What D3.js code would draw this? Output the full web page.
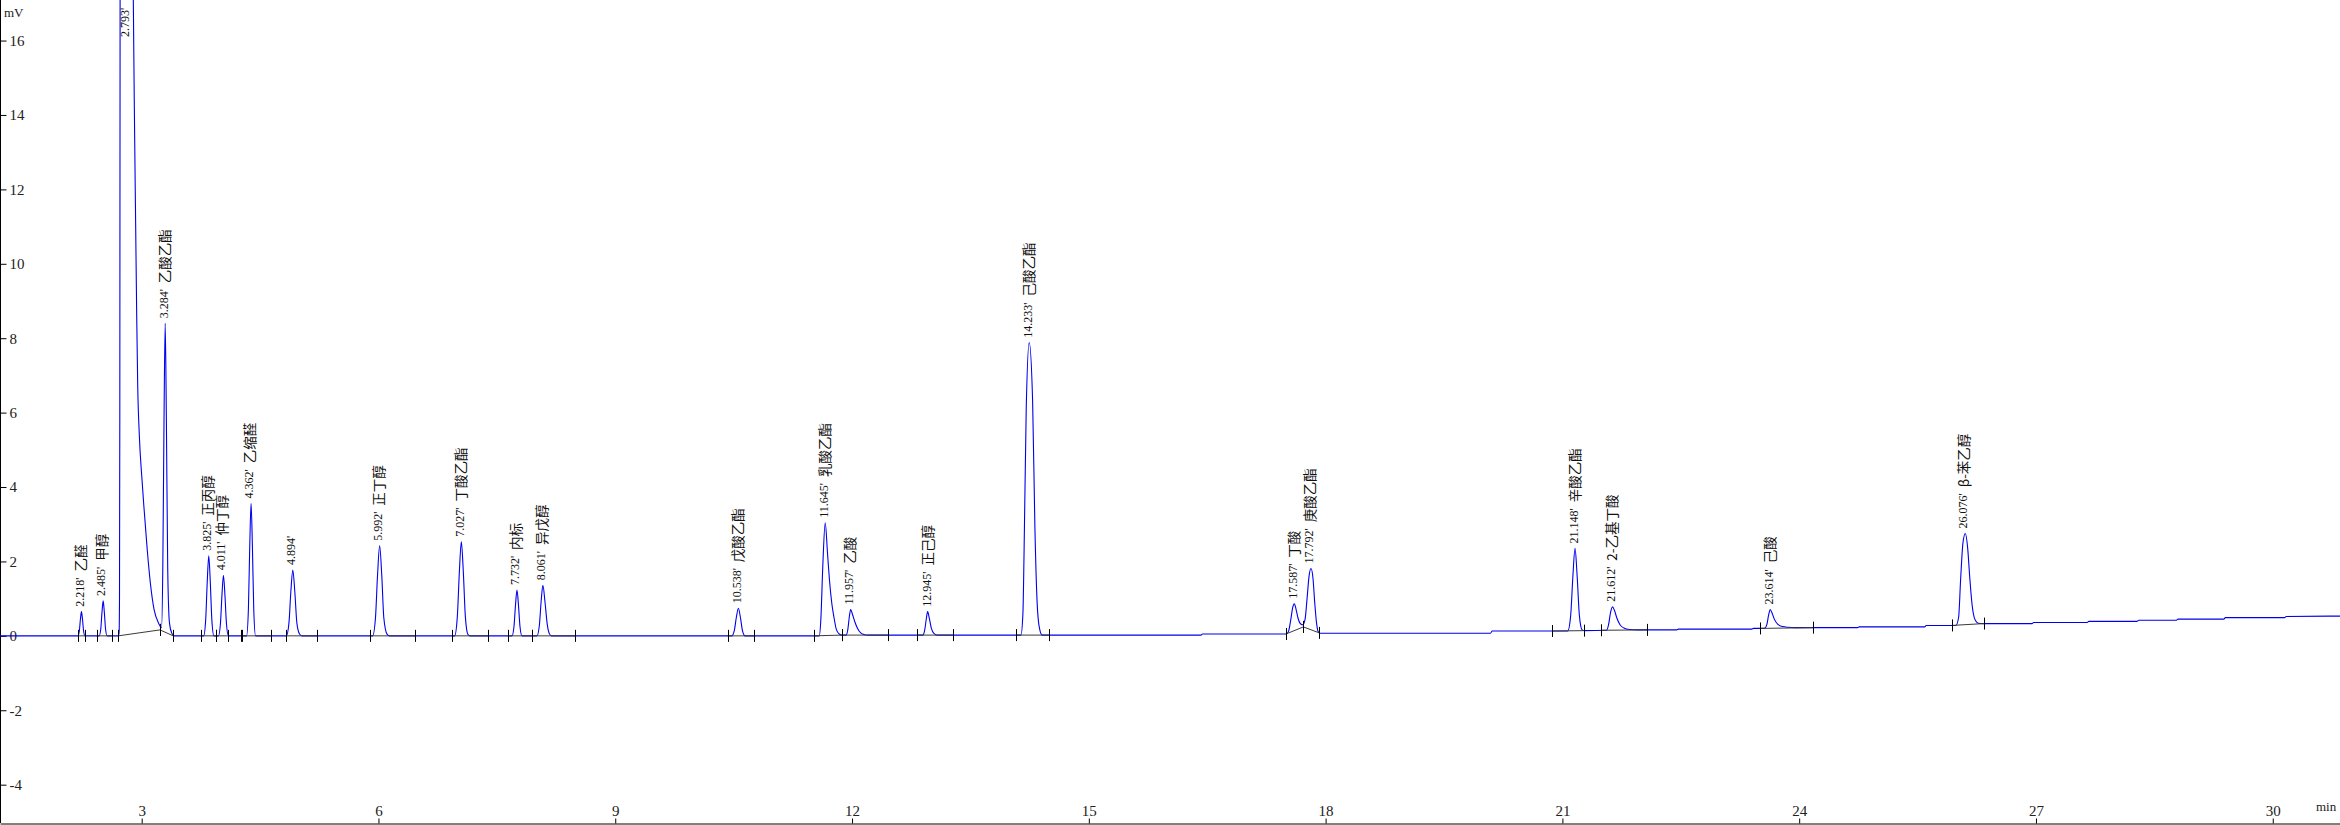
<!DOCTYPE html>
<html><head><meta charset="utf-8">
<script src="https://cdn.jsdelivr.net/npm/d3@7/dist/d3.min.js"></script>
<style>
html,body{margin:0;padding:0;background:#fff;}
svg{display:block;}
</style></head>
<body>
<svg id="chart" width="2340" height="825"></svg>
<script>
// ---------- data ----------
const retention = [2.218, 2.485, 2.793, 3.284, 3.825, 4.011, 4.362, 4.894, 5.992, 7.027, 7.732, 8.061,
  10.538, 11.645, 11.957, 12.945, 14.233, 17.587, 17.792, 21.148, 21.612, 23.614, 26.076];
const compound = ["乙醛","甲醇","","乙酸乙酯","正丙醇","仲丁醇","乙缩醛","","正丁醇","丁酸乙酯","内标","异戊醇",
  "戊酸乙酯","乳酸乙酯","乙酸","正己醇","己酸乙酯","丁酸","庚酸乙酯","辛酸乙酯","2-乙基丁酸","己酸","β-苯乙醇"];
const apexHeight = [0.65, 0.94, null, 8.40, 2.15, 1.63, 3.56, 1.77, 2.42, 2.53, 1.23, 1.36,
  0.74, 3.04, 0.71, 0.65, 7.88, 0.86, 1.81, 2.35, 0.78, 0.71, 2.75];

// detector signal [min, mV]
const trace = [
[1.205,0],[2.192,0],
[2.210,0.13],[2.2235,0.44],[2.237,0.65],[2.2505,0.44],[2.264,0.13],[2.282,0],
[2.462,0],[2.482,0.19],[2.497,0.63],[2.512,0.94],[2.527,0.63],[2.542,0.19],[2.562,0],
[2.705,0],[2.714,0.1],[2.719,1.0],[2.723,6],[2.727,18],[2.793,45],[2.885,19],[2.894,17.1],[2.906,14.4],[2.924,11.0],[2.937,8.6],[2.950,6.7],[2.970,5.4],[3.004,4.2],[3.029,3.45],[3.071,2.3],[3.110,1.42],[3.156,0.72],[3.214,0.34],[3.252,0.22],
[3.268,1.9],[3.283,5.8],[3.298,8.40],[3.313,5.8],[3.330,1.8],[3.352,0.35],[3.380,0.08],[3.410,0],
[3.785,0],[3.811,0.43],[3.8305,1.44],[3.850,2.15],[3.8695,1.44],[3.889,0.43],[3.915,0],
[3.973,0],[3.998,0.33],[4.017,1.09],[4.036,1.63],[4.055,1.09],[4.074,0.33],[4.099,0],
[4.329,0],[4.352,0.71],[4.369,2.39],[4.386,3.56],[4.403,2.39],[4.420,0.71],[4.443,0],
[4.833,0],[4.866,0.35],[4.890,1.19],[4.915,1.77],[4.940,1.19],[4.966,0.35],[5.000,0.05],[5.030,0],
[5.926,0],[5.962,0.48],[5.988,1.62],[6.015,2.42],[6.042,1.62],[6.068,0.48],[6.110,0.04],[6.140,0],
[6.965,0],[6.999,0.51],[7.0245,1.70],[7.050,2.53],[7.0755,1.70],[7.101,0.51],[7.135,0.03],[7.160,0],
[7.692,0],[7.717,0.25],[7.736,0.82],[7.755,1.23],[7.774,0.82],[7.793,0.25],[7.818,0],
[8.008,0],[8.038,0.27],[8.0605,0.91],[8.083,1.36],[8.110,0.91],[8.139,0.30],[8.165,0.06],[8.193,0],
[10.475,0],[10.509,0.15],[10.5345,0.50],[10.560,0.74],[10.5855,0.50],[10.611,0.15],[10.645,0],
[11.585,0],[11.605,0.45],[11.630,1.9],[11.660,3.04],[11.690,2.2],[11.714,1.5],[11.745,0.85],[11.771,0.5],[11.800,0.18],[11.838,0.05],[11.870,0.02],
[11.925,0.02],[11.945,0.15],[11.965,0.5],[11.982,0.71],[12.005,0.58],[12.035,0.38],[12.070,0.2],[12.110,0.08],[12.160,0.03],[12.190,0.02],
[12.895,0.02],[12.920,0.15],[12.940,0.44],[12.958,0.65],[12.980,0.46],[13.005,0.2],[13.040,0.06],[13.080,0.02],
[14.140,0.02],[14.165,0.6],[14.180,2.3],[14.207,6.1],[14.245,7.88],[14.288,6.3],[14.317,2.9],[14.345,0.9],[14.375,0.2],[14.410,0.02],
[16.42,0.02],[16.44,0.05],
[17.500,0.05],[17.530,0.12],[17.560,0.45],[17.582,0.75],[17.603,0.86],[17.625,0.72],[17.650,0.48],[17.685,0.32],[17.712,0.30],
[17.740,0.45],[17.765,1.0],[17.790,1.6],[17.815,1.81],[17.840,1.55],[17.862,0.9],[17.885,0.35],[17.905,0.12],[17.930,0.07],
[20.09,0.07],[20.11,0.13],
[21.068,0.13],[21.105,0.55],[21.133,1.6],[21.160,2.35],[21.187,1.6],[21.215,0.55],[21.250,0.16],[21.280,0.14],
[21.560,0.15],[21.585,0.3],[21.610,0.63],[21.635,0.78],[21.660,0.68],[21.690,0.48],[21.730,0.3],[21.780,0.21],[21.850,0.17],[21.950,0.16],
[22.45,0.16],[22.47,0.18],[23.40,0.18],[23.42,0.2],
[23.560,0.2],[23.590,0.3],[23.612,0.55],[23.633,0.71],[23.655,0.62],[23.685,0.45],[23.730,0.31],[23.790,0.25],[23.860,0.23],[23.950,0.22],
[24.74,0.22],[24.76,0.24],[25.59,0.24],[25.61,0.28],
[25.985,0.28],[26.020,0.5],[26.045,1.5],[26.075,2.5],[26.105,2.75],[26.135,2.35],[26.160,1.6],[26.190,0.85],[26.225,0.45],[26.270,0.34],[26.330,0.33],
[26.95,0.33],[26.97,0.36],[27.65,0.36],[27.67,0.39],[28.28,0.39],[28.30,0.42],[28.78,0.42],[28.80,0.45],[29.38,0.45],[29.40,0.49],[30.15,0.49],[30.17,0.52],[30.852,0.53]
];

// integration baselines [tStart, vStart, tEnd, vEnd]
const integration = [
[2.197,0,2.282,0],[2.430,0,2.620,0],[2.704,0,3.232,0.16],[3.232,0.16,3.400,0],[3.751,0,3.941,0],[3.941,0,4.094,0],
[4.258,0,4.638,0],[4.828,0,5.221,0],[5.899,0,6.463,0],[6.932,0,7.394,0],[7.640,0,7.939,0],[7.939,0,8.490,0],
[10.424,0,10.764,0],[11.516,0,11.867,0.02],[11.867,0.02,12.460,0.02],[12.828,0.02,13.280,0.02],[14.083,0.02,14.496,0.02],
[17.498,0.05,17.718,0.24],[17.718,0.24,17.920,0.08],[20.871,0.13,21.272,0.14],[21.493,0.15,22.076,0.16],
[23.501,0.2,24.180,0.22],[25.935,0.28,26.345,0.33]
];
const extraMarks = [[4.277,0]];

const yTicks = [-4,-2,0,2,4,6,8,10,12,14,16];
const xTicks = [3,6,9,12,15,18,21,24,27,30];

// ---------- drawing ----------
const W = 2340, H = 825;
const svg = d3.select("#chart");
const x = d3.scaleLinear().domain([1.205, 30.852]).range([0, W]);
const y = d3.scaleLinear().domain([-5.03, 17.09]).range([823, 0]);

svg.append("defs").append("clipPath").attr("id","plot")
  .append("rect").attr("x",0).attr("y",0).attr("width",W).attr("height",823);

const serif = "'Liberation Serif','Times New Roman',serif";

// y axis
const ya = svg.append("g").attr("transform","translate(0.5,0)")
  .call(d3.axisRight(y).tickValues(yTicks).tickSize(6).tickPadding(3).tickFormat(d => String(d)));
ya.select(".domain").attr("stroke","#000").attr("d","M0,0V823");
ya.selectAll(".tick line").attr("stroke","#000");
ya.selectAll(".tick text").attr("font-family",serif).attr("font-size",15).attr("fill","#222");

svg.append("text").attr("x",4).attr("y",17).attr("font-family",serif).attr("font-size",13)
  .attr("fill","#222").text("mV");

// x axis
const xa = svg.append("g").attr("transform","translate(0,823.5)")
  .call(d3.axisTop(x).tickValues(xTicks).tickSize(5).tickSizeOuter(0).tickPadding(3).tickFormat(d => String(d)));
xa.select(".domain").attr("stroke","#000");
xa.selectAll(".tick line").attr("stroke","#000");
xa.selectAll(".tick text").attr("font-family",serif).attr("font-size",15).attr("fill","#222");

svg.append("text").attr("x",2316).attr("y",811).attr("font-family",serif).attr("font-size",13)
  .attr("fill","#222").text("min");

const plot = svg.append("g").attr("clip-path","url(#plot)");

// signal
const line = d3.line().x(d => x(d[0])).y(d => y(d[1])).curve(d3.curveMonotoneX);
plot.append("path").datum(trace).attr("d", line)
  .attr("fill","none").attr("stroke","#0000ee").attr("stroke-width",1.1);

// integration baselines
plot.selectAll("line.base").data(integration).join("line").attr("class","base")
  .attr("x1", d => x(d[0])).attr("y1", d => y(d[1]))
  .attr("x2", d => x(d[2])).attr("y2", d => y(d[3]))
  .attr("stroke","#3a3a3a").attr("stroke-width",1);

// start / end marks
const marks = [];
integration.forEach(s => { marks.push([s[0], s[1]]); marks.push([s[2], s[3]]); });
extraMarks.forEach(m => marks.push(m));
plot.selectAll("line.mark").data(marks).join("line").attr("class","mark")
  .attr("x1", d => Math.round(x(d[0])) + 0.5).attr("x2", d => Math.round(x(d[0])) + 0.5)
  .attr("y1", d => y(d[1]) - 6).attr("y2", d => y(d[1]) + 6)
  .attr("stroke","#000").attr("stroke-width",1);

// peak labels
const labels = svg.append("g");
retention.forEach((rt, i) => {
  const px = x(rt);
  const py = apexHeight[i] == null ? 37 : y(apexHeight[i]) - 5;
  const t = labels.append("text")
    .attr("transform", `translate(${px},${py}) rotate(-90)`)
    .attr("text-anchor","start").attr("dominant-baseline","central").attr("fill","#111");
  t.append("tspan").attr("font-family",serif).attr("font-size",12).text(rt.toFixed(3) + "'");
  if (compound[i]) {
    t.append("tspan").attr("dx",6).attr("font-family","'Noto Sans CJK SC',sans-serif")
      .attr("font-size",13.5).text(compound[i]);
  }
});
</script>
</body></html>
